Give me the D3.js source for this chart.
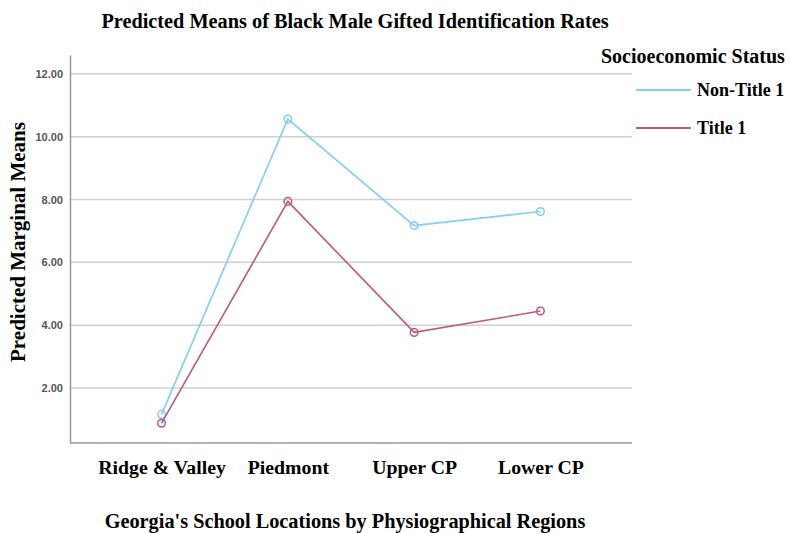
<!DOCTYPE html>
<html>
<head>
<meta charset="utf-8">
<script src="https://cdn.jsdelivr.net/npm/d3@7"></script>
<style>
  body { margin: 0; background: #fff; }
  .serif { font-family: "Liberation Serif", "Times New Roman", serif; font-weight: bold; fill: #000; }
</style>
</head>
<body>
<div id="chart"></div>
<script>
// chart data
const regions = ["Ridge & Valley", "Piedmont", "Upper CP", "Lower CP"];
const seriesNames = ["Non-Title 1", "Title 1"];
const nonTitle1 = [1.16, 10.56, 7.17, 7.62];
const title1 = [0.88, 7.94, 3.77, 4.45];
const yTicks = [2, 4, 6, 8, 10, 12];
const colours = ["#80cdf6", "#b95a7c"];

const width = 790, height = 533;
const margin = { top: 55, right: 158, bottom: 90, left: 70 };

const svg = d3.select("#chart").append("svg")
    .attr("width", width)
    .attr("height", height);

const x = d3.scalePoint()
    .domain(regions)
    .range([margin.left, width - margin.right])
    .padding(0.725);

const y = d3.scaleLinear()
    .domain([0.25, 12.6])
    .range([height - margin.bottom, margin.top]);

// gridlines
svg.append("g")
    .selectAll("line")
    .data(yTicks)
    .join("line")
    .attr("x1", margin.left)
    .attr("x2", width - margin.right)
    .attr("y1", d => y(d))
    .attr("y2", d => y(d))
    .attr("stroke", "#d0d0d0")
    .attr("stroke-width", 1.5);

// y axis
const yAxis = svg.append("g")
    .attr("transform", `translate(${margin.left},0)`)
    .call(d3.axisLeft(y).tickValues(yTicks).tickFormat(d3.format(".2f")).tickSize(0).tickPadding(7));
yAxis.select(".domain").attr("stroke", "#999").attr("stroke-width", 1.5);
yAxis.selectAll("text")
    .attr("font-family", "Liberation Sans, Arial, sans-serif")
    .attr("font-weight", "bold")
    .attr("font-size", 11)
    .attr("fill", "#555");

// x axis
const xAxis = svg.append("g")
    .attr("transform", `translate(0,${height - margin.bottom})`)
    .call(d3.axisBottom(x).tickSize(0).tickPadding(17));
xAxis.select(".domain").attr("stroke", "#999").attr("stroke-width", 1.5)
    .attr("d", `M${margin.left},0H${width - margin.right}`);
xAxis.selectAll("text")
    .attr("class", "serif")
    .attr("font-size", 19.8)
    .attr("dy", "0.71em");

// series
const series = [nonTitle1, title1].map((vals, i) => ({
    name: seriesNames[i],
    colour: colours[i],
    values: vals.map((v, j) => ({ region: regions[j], value: v }))
}));

const line = d3.line()
    .x(d => x(d.region))
    .y(d => y(d.value));

const groups = svg.append("g")
    .selectAll("g")
    .data(series)
    .join("g");

groups.append("path")
    .attr("d", d => line(d.values))
    .attr("fill", "none")
    .attr("stroke", d => d.colour)
    .attr("stroke-width", 1.6);

groups.selectAll("circle")
    .data(d => d.values.map(v => ({ ...v, colour: d.colour })))
    .join("circle")
    .attr("cx", d => x(d.region))
    .attr("cy", d => y(d.value))
    .attr("r", 3.8)
    .attr("fill", "none")
    .attr("stroke", d => d.colour)
    .attr("stroke-width", 1.5);

// titles
svg.append("text")
    .attr("class", "serif")
    .attr("x", 355)
    .attr("y", 28)
    .attr("text-anchor", "middle")
    .attr("font-size", 20.3)
    .text("Predicted Means of Black Male Gifted Identification Rates");

svg.append("text")
    .attr("class", "serif")
    .attr("transform", `translate(25,242) rotate(-90)`)
    .attr("text-anchor", "middle")
    .attr("font-size", 21)
    .text("Predicted Marginal Means");

svg.append("text")
    .attr("class", "serif")
    .attr("x", 345)
    .attr("y", 528)
    .attr("text-anchor", "middle")
    .attr("font-size", 20.3)
    .text("Georgia's School Locations by Physiographical Regions");

// legend
const legend = svg.append("g");
legend.append("text")
    .attr("class", "serif")
    .attr("x", 601)
    .attr("y", 63)
    .attr("font-size", 20)
    .text("Socioeconomic Status");

const items = legend.selectAll("g.item")
    .data(series)
    .join("g")
    .attr("class", "item")
    .attr("transform", (d, i) => `translate(636,${90 + i * 38})`);
items.append("line")
    .attr("x1", 0).attr("x2", 55)
    .attr("stroke", d => d.colour)
    .attr("stroke-width", 1.8);
items.append("text")
    .attr("class", "serif")
    .attr("x", 61)
    .attr("y", 6)
    .attr("font-size", 18)
    .text(d => d.name);
</script>
</body>
</html>
